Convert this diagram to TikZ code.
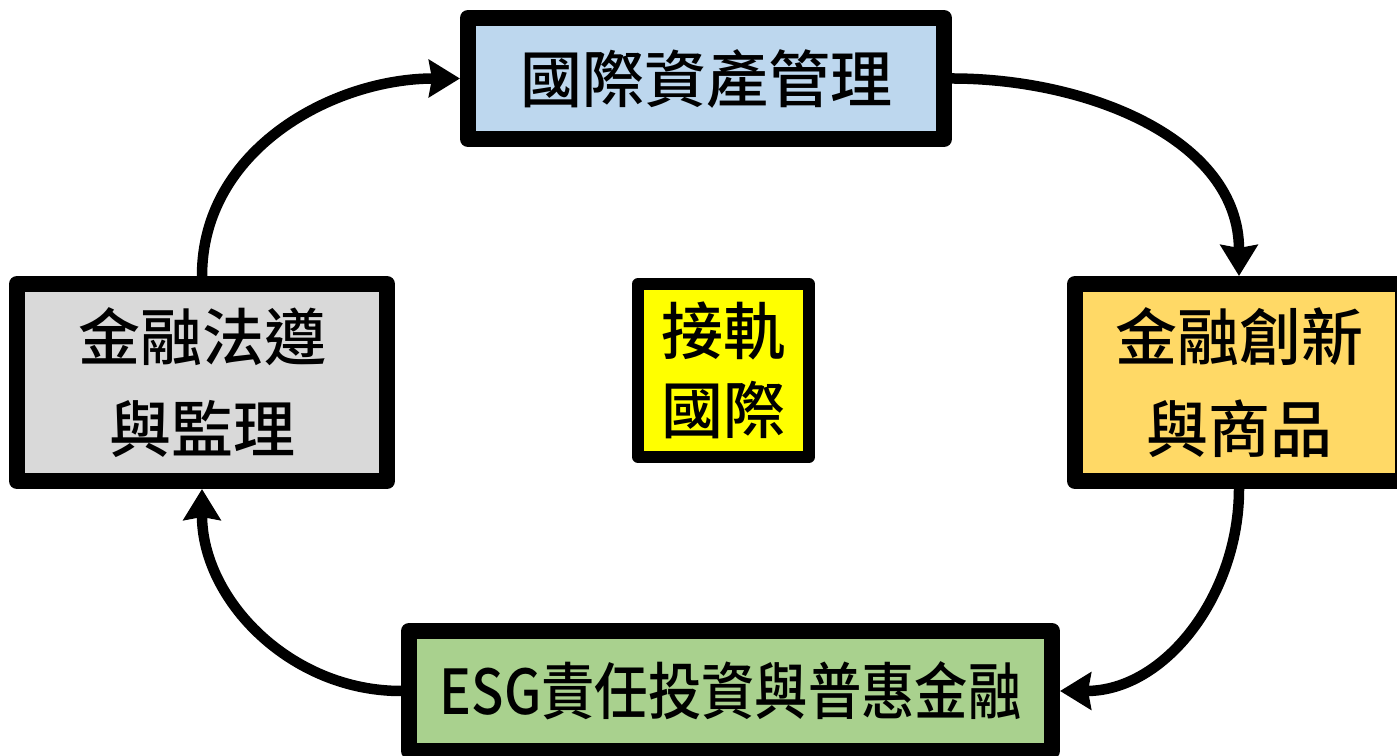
\documentclass[tikz,border=0pt]{standalone}
\usepackage{fontspec}
\newfontfamily\cjk{Noto Sans CJK TC}[BoldFont={Noto Sans CJK TC Medium}]
\usepackage{xcolor}
\usetikzlibrary{positioning,arrows.meta}
\definecolor{intlblue}{HTML}{BDD7EE}
\definecolor{legalgray}{HTML}{D9D9D9}
\definecolor{innovgold}{HTML}{FFD966}
\definecolor{esggreen}{HTML}{A9D18E}
\definecolor{coreyellow}{HTML}{FFFF00}
\tikzset{
	topic/.style={draw=black, line width=16pt, line join=round, inner sep=0pt, align=center,
		font=\cjk\bfseries\fontsize{62}{92}\selectfont},
	flow/.style={-{Stealth[length=31pt,width=37pt,inset=3pt]}, line width=10.5pt},
}

\begin{document}
\begin{tikzpicture}[x=1pt,y=1pt]
	\useasboundingbox (0,0) rectangle (1397,755);
	
	% draw the four topic boxes
	\node[topic, fill=intlblue, minimum width=476pt, minimum height=121pt] (intl) at (706,676.5) {國際資產管理};
	\node[topic, fill=legalgray, minimum width=370pt, minimum height=197pt] (legal) at (202,372.5) {金融法遵\\與監理};
	\node[topic, fill=innovgold, minimum width=328pt, minimum height=197pt] (innov) at (1239,372.5) {金融創新\\與商品};
	\node[topic, fill=esggreen, minimum width=643pt, minimum height=120pt] (esg) at (730.5,64) {\scalebox{0.86}[1]{ESG責任投資與普惠金融}};
	
	% center box
	\node[topic, line width=12pt, fill=coreyellow, minimum width=171pt, minimum height=173pt,
		font=\cjk\bfseries\fontsize{62}{79}\selectfont] (core) at (723.5,384.5) {接軌\\國際};
	
	% draw the cycle
	\draw[flow] (intl.east) to[out=0,in=90] (innov.north);
	\draw[flow] (innov.south) to[out=-90,in=0] (esg.east);
	\draw[flow] (esg.west) to[out=180,in=-90] (legal.south);
	\draw[flow] (legal.north) to[out=90,in=180] (intl.west);
	
\end{tikzpicture}
\end{document}
